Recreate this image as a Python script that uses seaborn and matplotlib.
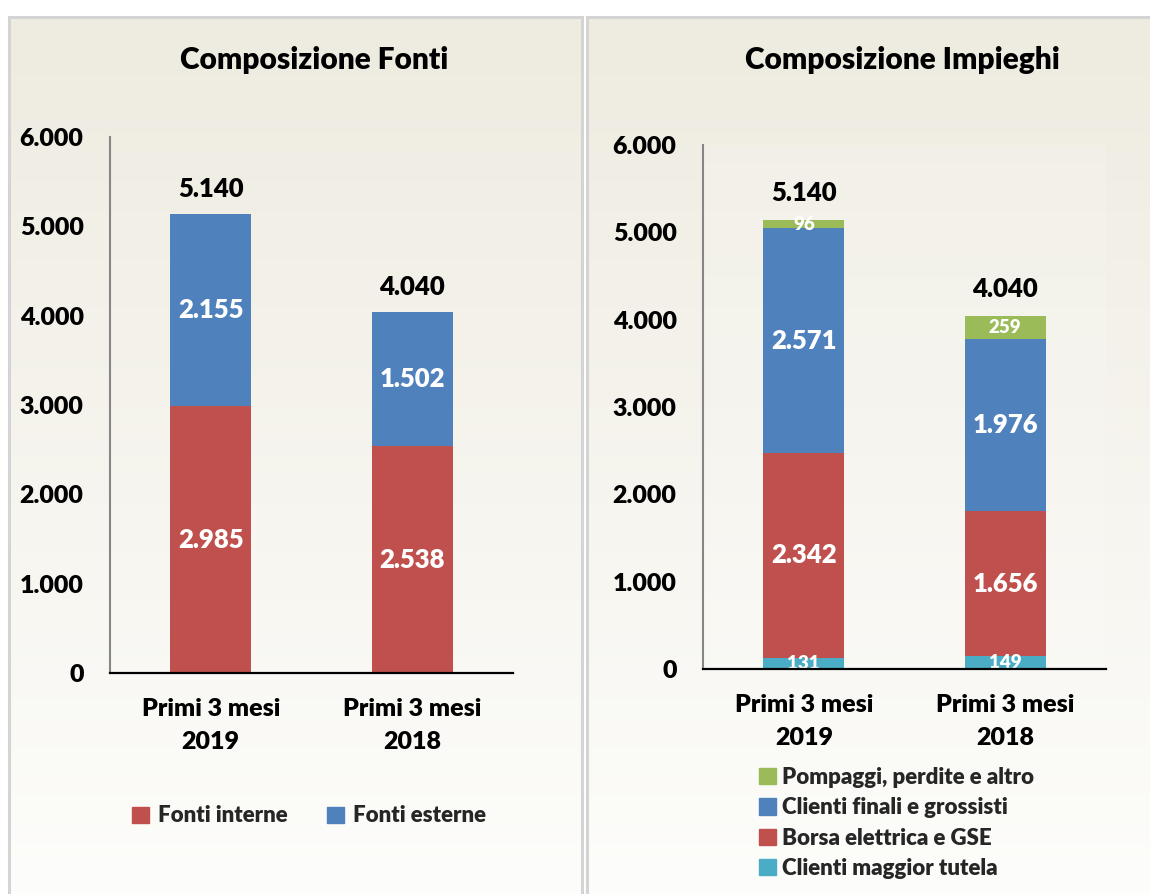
import numpy as np
import pandas as pd
import matplotlib
matplotlib.use("Agg")
import matplotlib.pyplot as plt
from matplotlib.patches import Patch, Rectangle
import seaborn as sns

# ---------------- data ----------------
categories = ["Primi 3 mesi\n2019", "Primi 3 mesi\n2018"]

fonti_series = ["Fonti interne", "Fonti esterne"]
fonti_interne = [2985, 2538]
fonti_esterne = [2155, 1502]
fonti_totali = [5140, 4040]

impieghi_series = ["Clienti maggior tutela", "Borsa elettrica e GSE",
                   "Clienti finali e grossisti", "Pompaggi, perdite e altro"]
clienti_tutela = [131, 149]
borsa_gse = [2342, 1656]
clienti_finali = [2571, 1976]
pompaggi = [96, 259]
impieghi_totali = [5140, 4040]

yticks = [0, 1000, 2000, 3000, 4000, 5000, 6000]

# ---------------- style ----------------
sns.set_theme(style="white")
plt.rcParams["font.family"] = ["Lato", "DejaVu Sans"]
WT = "heavy"
plt.rcParams["font.weight"] = WT

RED = "#C0504D"
BLUE = "#4F81BD"
GREEN = "#9BBB59"
CYAN = "#4BACC6"

TICK_FS = 18
VAL_FS = 18.5
SMALL_FS = 13.5
TITLE_FS = 21.5
LEG_FS = 16

W, H = 1150, 894
fig = plt.figure(figsize=(W / 100, H / 100), dpi=100)
fig.patch.set_facecolor("white")


def fx(x):
    return x / W


def fy(y):
    return 1 - y / H


# panel backgrounds with vertical gradient
grad = np.linspace(0, 1, 256)[:, None]
top = np.array([238, 235, 224]) / 255
bot = np.array([253, 253, 251]) / 255
img = top[None, None, :] * (1 - grad[..., None]) + bot[None, None, :] * grad[..., None]
img = np.repeat(img, 2, axis=1)

for (x0, x1) in [(9, 582), (587, 1160)]:
    bg = fig.add_axes([fx(x0), 0, fx(x1 - x0), fy(17)], zorder=0)
    bg.imshow(img, aspect="auto", extent=[0, 1, 0, 1], origin="upper")
    bg.set_xlim(0, 1)
    bg.set_ylim(0, 1)
    bg.axis("off")
    bg.add_patch(Rectangle((0, -0.01), 1, 1.01, fill=False, edgecolor="#D4D4D4",
                           lw=2.2, transform=bg.transAxes, clip_on=False))


def fmt(v):
    return f"{v:,}".replace(",", ".")


def style_axes(ax, fs):
    ax.set_xlim(-0.5, 1.5)
    ax.set_ylim(0, 6000)
    ax.set_yticks(yticks)
    ax.set_yticklabels([fmt(v) for v in yticks], fontsize=fs, fontweight=WT)
    ax.set_xticks([0, 1])
    ax.set_xticklabels(categories, fontsize=fs, fontweight=WT, linespacing=1.62)
    ax.set_xticks([-0.5, 0.5, 1.5], minor=True)
    ax.tick_params(axis="x", which="major", length=0, pad=18, colors="black")
    ax.tick_params(axis="x", which="minor", length=6, width=1.2, color="#8C8C8C",
                   direction="out")
    ax.tick_params(axis="y", which="major", length=6, width=1.2, color="#8C8C8C",
                   direction="out", pad=13, labelcolor="black")
    for s in ["top", "right"]:
        ax.spines[s].set_visible(False)
    ax.spines["left"].set_color("#868686")
    ax.spines["left"].set_linewidth(1.5)
    ax.spines["bottom"].set_color("black")
    ax.spines["bottom"].set_linewidth(1.6)
    ax.spines["bottom"].set_zorder(5)
    ax.set_xlabel("")
    ax.set_ylabel("")


# ---------------- left: Composizione Fonti ----------------
ax1 = fig.add_axes([fx(110), fy(673), fx(513 - 110), (673 - 137) / H], zorder=2)
ax1.patch.set_alpha(0)
df1 = pd.DataFrame({"cat": categories, "interne": fonti_interne, "esterne": fonti_esterne})
df1["cum_esterne"] = df1["interne"] + df1["esterne"]
sns.barplot(data=df1, x="cat", y="cum_esterne", color=BLUE, saturation=1, width=0.4,
            ax=ax1, linewidth=0)
sns.barplot(data=df1, x="cat", y="interne", color=RED, saturation=1, width=0.4,
            ax=ax1, linewidth=0)
style_axes(ax1, TICK_FS)
for i in range(2):
    ax1.text(i, fonti_interne[i] / 2, fmt(fonti_interne[i]), color="white",
             ha="center", va="center", fontsize=VAL_FS, fontweight=WT)
    ax1.text(i, fonti_interne[i] + fonti_esterne[i] / 2, fmt(fonti_esterne[i]),
             color="white", ha="center", va="center", fontsize=VAL_FS, fontweight=WT)
    ax1.annotate(fmt(fonti_totali[i]), (i, fonti_totali[i]), xytext=(0, 12),
                 textcoords="offset points", ha="center", va="baseline",
                 fontsize=VAL_FS, fontweight=WT, color="black")
fig.text(fx(314), fy(60), "Composizione Fonti", ha="center", va="center",
         fontsize=TITLE_FS, fontweight=WT, color="black")
fig.legend(handles=[Patch(color=RED, label=fonti_series[0]),
                    Patch(color=BLUE, label=fonti_series[1])],
           loc="center", bbox_to_anchor=(fx(309), fy(816)), ncol=2, frameon=False,
           handlelength=0.75, handleheight=0.75, handletextpad=0.4,
           columnspacing=1.8, prop={"weight": WT, "size": LEG_FS})

# ---------------- right: Composizione Impieghi ----------------
ax2 = fig.add_axes([fx(703), fy(669), fx(1106 - 703), (669 - 145) / H], zorder=2)
ax2.patch.set_facecolor((1, 1, 1, 0.15))
df2 = pd.DataFrame({"cat": categories, "tutela": clienti_tutela, "borsa": borsa_gse,
                    "finali": clienti_finali, "pompaggi": pompaggi})
df2["c1"] = df2["tutela"]
df2["c2"] = df2["c1"] + df2["borsa"]
df2["c3"] = df2["c2"] + df2["finali"]
df2["c4"] = df2["c3"] + df2["pompaggi"]
for col, c in [("c4", GREEN), ("c3", BLUE), ("c2", RED), ("c1", CYAN)]:
    sns.barplot(data=df2, x="cat", y=col, color=c, saturation=1, width=0.4,
                ax=ax2, linewidth=0)
style_axes(ax2, TICK_FS)
for i in range(2):
    base = 0
    for vals, fs in [(clienti_tutela, SMALL_FS), (borsa_gse, VAL_FS),
                     (clienti_finali, VAL_FS), (pompaggi, SMALL_FS)]:
        v = vals[i]
        ax2.text(i, base + v / 2, fmt(v), color="white", ha="center", va="center",
                 fontsize=fs, fontweight=WT, zorder=4)
        base += v
    ax2.annotate(fmt(impieghi_totali[i]), (i, impieghi_totali[i]), xytext=(0, 14),
                 textcoords="offset points", ha="center", va="baseline",
                 fontsize=VAL_FS, fontweight=WT, color="black")
fig.text(fx(902), fy(60), "Composizione Impieghi", ha="center", va="center",
         fontsize=TITLE_FS, fontweight=WT, color="black")
leg_handles = [Patch(color=GREEN, label=impieghi_series[3]),
               Patch(color=BLUE, label=impieghi_series[2]),
               Patch(color=RED, label=impieghi_series[1]),
               Patch(color=CYAN, label=impieghi_series[0])]
fig.legend(handles=leg_handles, loc="upper left", bbox_to_anchor=(fx(739), fy(747)),
           ncol=1, frameon=False, handlelength=0.75, handleheight=0.75,
           handletextpad=0.3, labelspacing=0.42,
           prop={"weight": WT, "size": LEG_FS})

fig.savefig("out.png", dpi=100, facecolor="white")
